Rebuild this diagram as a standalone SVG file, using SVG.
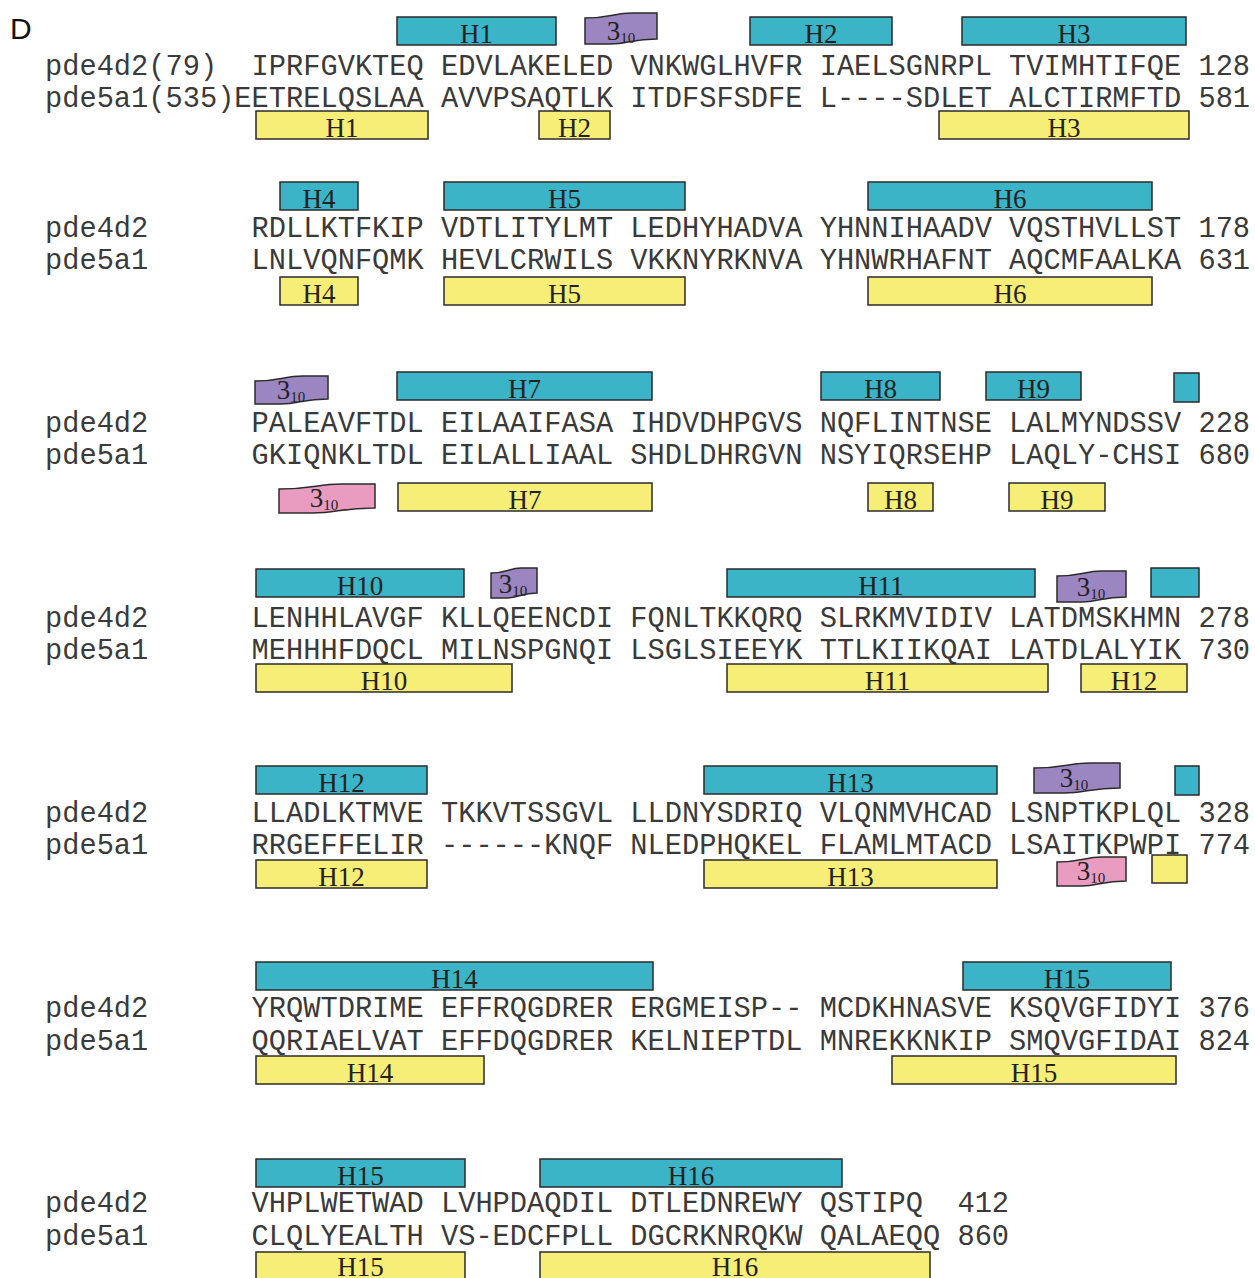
<svg xmlns="http://www.w3.org/2000/svg" width="1255" height="1278" viewBox="0 0 1255 1278">
<style>
.bg{fill:#ffffff}
.c{fill:#3ab4c6;stroke:#2b2b2b;stroke-width:1.5}
.y{fill:#f6ee76;stroke:#2b2b2b;stroke-width:1.5}
.p{fill:#9c86c2;stroke:#2b2b2b;stroke-width:1.5}
.k{fill:#ea9cc0;stroke:#2b2b2b;stroke-width:1.5}
.seq{font-family:"Liberation Mono","DejaVu Sans Mono",monospace;font-size:28.7px;fill:#3a3a3a;white-space:pre}
.lab{font-family:"Liberation Serif","DejaVu Serif",serif;font-size:27px;fill:#222222;text-anchor:middle}
.t3{font-family:"Liberation Serif","DejaVu Serif",serif;font-size:27px;fill:#222222;text-anchor:middle}
.sub{font-size:15px}
.D{font-family:"Liberation Sans","DejaVu Sans",sans-serif;font-size:30px;fill:#111111}
</style>
<rect class="bg" x="0" y="0" width="1255" height="1278"/>
<text class="D" x="10" y="39">D</text>

<g id="block1">
<rect class="c" x="397" y="17" width="159" height="28"/><text class="lab" x="476.5" y="43">H1</text>
<path class="p" d="M585,18 C610.2,18 613.8,13 631.8,13 L657,13 L657,39 C631.8,39 628.2,44 610.2,44 L585,44 Z"/><text class="t3" x="621" y="40">3<tspan class="sub" dy="3">10</tspan></text>
<rect class="c" x="750" y="17" width="142" height="28"/><text class="lab" x="821" y="43">H2</text>
<rect class="c" x="962" y="17" width="224" height="28"/><text class="lab" x="1074" y="43">H3</text>
<text class="seq" x="45" y="75" xml:space="preserve">pde4d2(79)  IPRFGVKTEQ EDVLAKELED VNKWGLHVFR IAELSGNRPL TVIMHTIFQE 128</text>
<text class="seq" x="45" y="107" xml:space="preserve">pde5a1(535)EETRELQSLAA AVVPSAQTLK ITDFSFSDFE L----SDLET ALCTIRMFTD 581</text>
<rect class="y" x="256" y="111" width="172" height="28"/><text class="lab" x="342" y="137">H1</text>
<rect class="y" x="539" y="111" width="71" height="28"/><text class="lab" x="574.5" y="137">H2</text>
<rect class="y" x="939" y="111" width="250" height="28"/><text class="lab" x="1064" y="137">H3</text>
</g>

<g id="block2">
<rect class="c" x="280" y="182" width="78" height="28"/><text class="lab" x="319" y="208">H4</text>
<rect class="c" x="444" y="182" width="241" height="28"/><text class="lab" x="564.5" y="208">H5</text>
<rect class="c" x="868" y="182" width="284" height="28"/><text class="lab" x="1010" y="208">H6</text>
<text class="seq" x="45" y="237" xml:space="preserve">pde4d2      RDLLKTFKIP VDTLITYLMT LEDHYHADVA YHNNIHAADV VQSTHVLLST 178</text>
<text class="seq" x="45" y="269" xml:space="preserve">pde5a1      LNLVQNFQMK HEVLCRWILS VKKNYRKNVA YHNWRHAFNT AQCMFAALKA 631</text>
<rect class="y" x="280" y="277" width="78" height="28"/><text class="lab" x="319" y="303">H4</text>
<rect class="y" x="444" y="277" width="241" height="28"/><text class="lab" x="564.5" y="303">H5</text>
<rect class="y" x="868" y="277" width="284" height="28"/><text class="lab" x="1010" y="303">H6</text>
</g>

<g id="block3">
<path class="p" d="M255,381 C280.5,381 284.2,376 302.5,376 L328,376 L328,399 C302.5,399 298.8,404 280.5,404 L255,404 Z"/><text class="t3" x="291" y="399">3<tspan class="sub" dy="3">10</tspan></text>
<rect class="c" x="397" y="372" width="255" height="28"/><text class="lab" x="524.5" y="398">H7</text>
<rect class="c" x="821" y="372" width="119" height="28"/><text class="lab" x="880.5" y="398">H8</text>
<rect class="c" x="986" y="372" width="95" height="28"/><text class="lab" x="1033.5" y="398">H9</text>
<rect class="c" x="1174" y="373" width="25" height="29"/>
<text class="seq" x="45" y="432" xml:space="preserve">pde4d2      PALEAVFTDL EILAAIFASA IHDVDHPGVS NQFLINTNSE LALMYNDSSV 228</text>
<text class="seq" x="45" y="464" xml:space="preserve">pde5a1      GKIQNKLTDL EILALLIAAL SHDLDHRGVN NSYIQRSEHP LAQLY-CHSI 680</text>
<path class="k" d="M279,489 C312.6,489 317.4,484 341.4,484 L375,484 L375,508 C341.4,508 336.6,513 312.6,513 L279,513 Z"/><text class="t3" x="324" y="507">3<tspan class="sub" dy="3">10</tspan></text>
<rect class="y" x="398" y="483" width="254" height="28"/><text class="lab" x="525" y="509">H7</text>
<rect class="y" x="868" y="483" width="65" height="28"/><text class="lab" x="900.5" y="509">H8</text>
<rect class="y" x="1009" y="483" width="96" height="28"/><text class="lab" x="1057" y="509">H9</text>
</g>

<g id="block4">
<rect class="c" x="256" y="569" width="208" height="28"/><text class="lab" x="360" y="595">H10</text>
<path class="p" d="M491,573 C507.1,573 509.4,568 520.9,568 L537,568 L537,593 C520.9,593 518.6,598 507.1,598 L491,598 Z"/><text class="t3" x="513" y="593">3<tspan class="sub" dy="3">10</tspan></text>
<rect class="c" x="727" y="569" width="308" height="28"/><text class="lab" x="881" y="595">H11</text>
<path class="p" d="M1057,576 C1081.2,576 1084.6,571 1101.9,571 L1126,571 L1126,597 C1101.9,597 1098.4,602 1081.2,602 L1057,602 Z"/><text class="t3" x="1091" y="596">3<tspan class="sub" dy="3">10</tspan></text>
<rect class="c" x="1151" y="568" width="48" height="29"/>
<text class="seq" x="45" y="627" xml:space="preserve">pde4d2      LENHHLAVGF KLLQEENCDI FQNLTKKQRQ SLRKMVIDIV LATDMSKHMN 278</text>
<text class="seq" x="45" y="659" xml:space="preserve">pde5a1      MEHHHFDQCL MILNSPGNQI LSGLSIEEYK TTLKIIKQAI LATDLALYIK 730</text>
<rect class="y" x="256" y="664" width="256" height="28"/><text class="lab" x="384" y="690">H10</text>
<rect class="y" x="727" y="664" width="321" height="28"/><text class="lab" x="887.5" y="690">H11</text>
<rect class="y" x="1081" y="664" width="106" height="28"/><text class="lab" x="1134" y="690">H12</text>
</g>

<g id="block5">
<rect class="c" x="256" y="766" width="171" height="28"/><text class="lab" x="341.5" y="792">H12</text>
<rect class="c" x="704" y="766" width="293" height="28"/><text class="lab" x="850.5" y="792">H13</text>
<path class="p" d="M1034,768 C1064.1,768 1068.4,763 1089.9,763 L1120,763 L1120,788 C1089.9,788 1085.6,793 1064.1,793 L1034,793 Z"/><text class="t3" x="1074" y="787">3<tspan class="sub" dy="3">10</tspan></text>
<rect class="c" x="1175" y="766" width="24" height="29"/>
<text class="seq" x="45" y="822" xml:space="preserve">pde4d2      LLADLKTMVE TKKVTSSGVL LLDNYSDRIQ VLQNMVHCAD LSNPTKPLQL 328</text>
<text class="seq" x="45" y="854" xml:space="preserve">pde5a1      RRGEFFELIR ------KNQF NLEDPHQKEL FLAMLMTACD LSAITKPWPI 774</text>
<rect class="y" x="256" y="860" width="171" height="28"/><text class="lab" x="341.5" y="886">H12</text>
<rect class="y" x="704" y="860" width="293" height="28"/><text class="lab" x="850.5" y="886">H13</text>
<path class="k" d="M1057,862 C1081.2,862 1084.6,857 1101.9,857 L1126,857 L1126,881 C1101.9,881 1098.4,886 1081.2,886 L1057,886 Z"/><text class="t3" x="1091" y="880">3<tspan class="sub" dy="3">10</tspan></text>
<rect class="y" x="1152" y="855" width="35" height="28"/>
</g>

<g id="block6">
<rect class="c" x="256" y="962" width="397" height="28"/><text class="lab" x="454.5" y="988">H14</text>
<rect class="c" x="963" y="962" width="208" height="28"/><text class="lab" x="1067" y="988">H15</text>
<text class="seq" x="45" y="1017" xml:space="preserve">pde4d2      YRQWTDRIME EFFRQGDRER ERGMEISP-- MCDKHNASVE KSQVGFIDYI 376</text>
<text class="seq" x="45" y="1050" xml:space="preserve">pde5a1      QQRIAELVAT EFFDQGDRER KELNIEPTDL MNREKKNKIP SMQVGFIDAI 824</text>
<rect class="y" x="256" y="1056" width="228" height="28"/><text class="lab" x="370" y="1082">H14</text>
<rect class="y" x="892" y="1056" width="284" height="28"/><text class="lab" x="1034" y="1082">H15</text>
</g>

<g id="block7">
<rect class="c" x="256" y="1159" width="209" height="28"/><text class="lab" x="360.5" y="1185">H15</text>
<rect class="c" x="540" y="1159" width="302" height="28"/><text class="lab" x="691" y="1185">H16</text>
<text class="seq" x="45" y="1212" xml:space="preserve">pde4d2      VHPLWETWAD LVHPDAQDIL DTLEDNREWY QSTIPQ  412</text>
<text class="seq" x="45" y="1245" xml:space="preserve">pde5a1      CLQLYEALTH VS-EDCFPLL DGCRKNRQKW QALAEQQ 860</text>
<rect class="y" x="256" y="1252" width="209" height="30"/><text class="lab" x="360.5" y="1276">H15</text>
<rect class="y" x="540" y="1252" width="390" height="30"/><text class="lab" x="735" y="1276">H16</text>
</g>
</svg>
